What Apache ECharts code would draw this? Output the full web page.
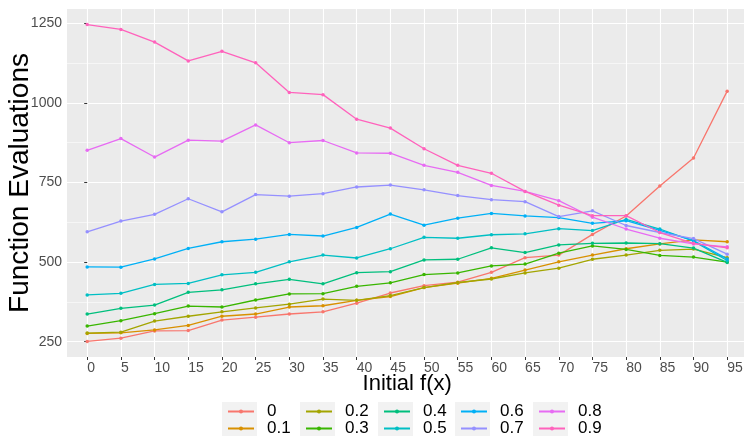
<!DOCTYPE html>
<html>
<head>
<meta charset="utf-8">
<script src="https://cdn.jsdelivr.net/npm/echarts@6/dist/echarts.min.js"></script>
<style>
html,body{margin:0;padding:0;background:#fff;}
#c{width:744px;height:436px;}
</style>
</head>
<body>
<div id="c"></div>
<script>
const xValues = [0, 5, 10, 15, 20, 25, 30, 35, 40, 45, 50, 55, 60, 65, 70, 75, 80, 85, 90, 95];
const yTicks = [250, 500, 750, 1000, 1250];
const yMinorTicks = [375, 625, 875, 1125];
const seriesNames = ['0', '0.1', '0.2', '0.3', '0.4', '0.5', '0.6', '0.7', '0.8', '0.9'];
const s00 = [251, 261, 284, 285, 318, 327, 337, 344, 371, 403, 426, 437, 468, 514, 522, 587, 645, 739, 827, 1037];
const s01 = [276, 278, 287, 301, 330, 337, 359, 363, 380, 392, 420, 434, 449, 475, 501, 522, 542, 557, 570, 564];
const s02 = [277, 280, 315, 330, 344, 356, 368, 384, 380, 395, 420, 436, 447, 466, 481, 509, 522, 537, 541, 514];
const s03 = [299, 316, 338, 362, 359, 381, 400, 401, 424, 435, 461, 466, 488, 494, 528, 551, 540, 521, 516, 500];
const s04 = [337, 355, 365, 405, 413, 432, 446, 432, 467, 470, 507, 509, 545, 530, 554, 559, 560, 558, 544, 499];
const s05 = [397, 402, 430, 433, 460, 468, 501, 522, 513, 542, 578, 575, 586, 589, 605, 599, 634, 604, 566, 505];
const s06 = [485, 484, 510, 543, 564, 572, 587, 582, 609, 651, 616, 638, 653, 645, 640, 622, 630, 600, 568, 510];
const s07 = [595, 629, 650, 699, 658, 712, 707, 715, 736, 742, 727, 709, 696, 690, 643, 661, 615, 593, 574, 525];
const s08 = [851, 888, 830, 883, 880, 931, 875, 882, 843, 842, 804, 782, 741, 722, 693, 641, 604, 575, 557, 548];
const s09 = [1246, 1231, 1191, 1132, 1162, 1126, 1033, 1026, 949, 921, 856, 804, 779, 722, 679, 646, 646, 593, 559, 545];
const allValues = [s00, s01, s02, s03, s04, s05, s06, s07, s08, s09];
const colors = ['#F8766D', '#D89000', '#A3A500', '#39B600', '#00BF7D', '#00BFC4', '#00B0F6', '#9590FF', '#E76BF3', '#FF62BC'];

const FONT = 'Liberation Sans, Arial, sans-serif';
const chart = echarts.init(document.getElementById('c'), null, {renderer: 'canvas'});

const series = allValues.map((vals, i) => ({
  name: seriesNames[i],
  type: 'line',
  data: vals.map((v, j) => [xValues[j], v]),
  symbol: 'circle',
  symbolSize: 3.5,
  showSymbol: true,
  color: colors[i],
  lineStyle: {width: 1.3, color: colors[i]},
  itemStyle: {color: colors[i]},
  animation: false,
  emphasis: {disabled: true}
}));

const legendCols = [227, 305, 383, 460, 538];
const legends = legendCols.map((x, k) => ({
  data: [seriesNames[2 * k], seriesNames[2 * k + 1]],
  orient: 'vertical',
  left: x,
  top: 403,
  height: 60,
  padding: 0,
  itemWidth: 26,
  itemHeight: 5,
  itemGap: 0,
  selectedMode: false,
  lineStyle: {width: 2},
  textStyle: {fontSize: 17, fontFamily: FONT, color: '#000', lineHeight: 16, padding: [0, 0, 0, 8]}
}));

const keyBoxes = legendCols.map(x => ({
  type: 'rect',
  left: x - 5,
  top: 402,
  shape: {width: 35, height: 34},
  style: {fill: '#F2F2F2'},
  z: 0
}));

chart.setOption({
  animation: false,
  backgroundColor: '#ffffff',
  grid: {left: 67, top: 9, width: 680.4, height: 348, show: true, backgroundColor: '#EBEBEB', borderWidth: 0, containLabel: false, outerBoundsMode: 'none'},
  xAxis: {
    type: 'value',
    min: -3,
    max: 98,
    name: 'Initial f(x)',
    nameLocation: 'middle',
    nameGap: 16,
    nameMoveOverlap: false,
    nameTextStyle: {fontSize: 22, fontFamily: FONT, color: '#000'},
    axisLine: {show: false},
    axisTick: {show: true, length: 3, lineStyle: {color: '#333'}, customValues: xValues},
    axisLabel: {customValues: xValues, fontSize: 14, fontFamily: FONT, color: '#4D4D4D', align: 'left', margin: 4, formatter: v => String(v)},
    splitLine: {show: true, lineStyle: {color: '#ffffff', width: 1.1}}
  },
  yAxis: [{
    type: 'value',
    min: 202,
    max: 1295,
    name: 'Function Evaluations',
    nameLocation: 'middle',
    nameRotate: 90,
    nameGap: 33,
    nameMoveOverlap: false,
    nameTextStyle: {fontSize: 28, fontFamily: FONT, color: '#000'},
    axisLine: {show: false},
    axisTick: {show: true, length: 3, lineStyle: {color: '#333'}, customValues: yTicks},
    axisLabel: {customValues: yTicks, fontSize: 14, fontFamily: FONT, color: '#4D4D4D', margin: 5, formatter: v => String(v)},
    splitLine: {show: true, lineStyle: {color: '#ffffff', width: 1.1}}
  }, {
    type: 'value',
    min: 202,
    max: 1295,
    position: 'left',
    axisLine: {show: false},
    axisTick: {show: false, customValues: yMinorTicks},
    axisLabel: {show: false, customValues: yMinorTicks},
    splitLine: {show: true, lineStyle: {color: '#ffffff', width: 0.55}}
  }],
  legend: legends,
  graphic: keyBoxes,
  series: series
});
</script>
</body>
</html>
